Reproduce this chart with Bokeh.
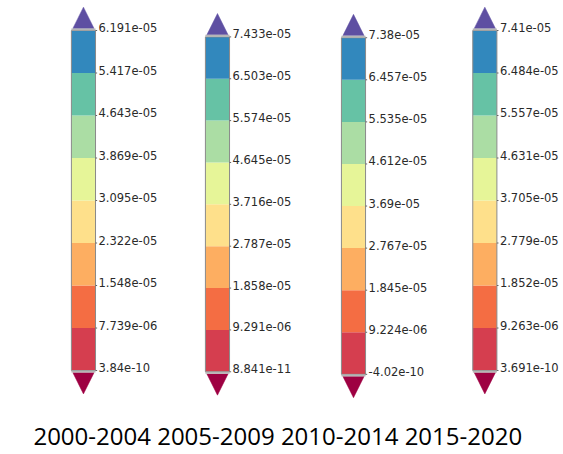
from bokeh.plotting import figure
from bokeh.models import Range1d, ColumnDataSource
from bokeh.embed import file_html
from bokeh.resources import INLINE
from bokeh.core.properties import value

# ---------------- data ----------------
periods = ["2000-2004", "2005-2009", "2010-2014", "2015-2020"]
ticks_2000 = ["3.84e-10", "7.739e-06", "1.548e-05", "2.322e-05", "3.095e-05",
              "3.869e-05", "4.643e-05", "5.417e-05", "6.191e-05"]
ticks_2005 = ["8.841e-11", "9.291e-06", "1.858e-05", "2.787e-05", "3.716e-05",
              "4.645e-05", "5.574e-05", "6.503e-05", "7.433e-05"]
ticks_2010 = ["-4.02e-10", "9.224e-06", "1.845e-05", "2.767e-05", "3.69e-05",
              "4.612e-05", "5.535e-05", "6.457e-05", "7.38e-05"]
ticks_2015 = ["3.691e-10", "9.263e-06", "1.852e-05", "2.779e-05", "3.705e-05",
              "4.631e-05", "5.557e-05", "6.484e-05", "7.41e-05"]
band_colors = ["#d53e4f", "#f46d43", "#fdae61", "#fee08b",
               "#e6f598", "#abdda4", "#66c2a5", "#3288bd"]
over_color = "#5e4fa2"
under_color = "#9e0142"

all_ticks = [ticks_2000, ticks_2005, ticks_2010, ticks_2015]

# ---------------- layout / style ----------------
W, H = 563, 454
bar_base = [0.0, -0.03, -0.09, 0.0]      # vertical shift of each bar (band units)
bar_step = [1.0, 0.985, 0.99, 1.0]       # band height of each bar (band units)
bar_shift_x = [0.0, 0.0, 0.015, -0.005]
half_w = 0.09
tri_half = 0.079
tri_gap = 0.05
tri_h = 0.50

p = figure(width=W, height=H, output_backend="svg", toolbar_location=None,
           x_range=Range1d(-0.619, 3.582), y_range=Range1d(-1.976, 8.706),
           min_border=0, min_border_left=0, min_border_right=0,
           min_border_top=0, min_border_bottom=0)
p.axis.visible = False
p.grid.visible = False
p.outline_line_color = None
p.background_fill_color = "white"
p.border_fill_color = "white"

for i, ticks in enumerate(all_ticks):
    cx = i + bar_shift_x[i]
    n = len(ticks) - 1
    base, step = bar_base[i], bar_step[i]
    bottoms = [base + k * step for k in range(n)]
    tops = [base + (k + 1) * step for k in range(n)]
    src = ColumnDataSource(dict(left=[cx - half_w] * n, right=[cx + half_w] * n,
                                bottom=bottoms, top=tops, color=band_colors[:n]))
    p.quad(left="left", right="right", bottom="bottom", top="top",
           fill_color="color", line_color=None, source=src)
    top_y = base + n * step
    bot_y = base
    # outline
    p.quad(left=[cx - half_w], right=[cx + half_w], bottom=[bot_y], top=[top_y],
           fill_color=None, line_color="#8a8a8a", line_width=1)
    # extension triangles
    p.patch(x=[cx - tri_half, cx + tri_half, cx],
            y=[top_y + tri_gap, top_y + tri_gap, top_y + tri_gap + tri_h],
            fill_color=over_color, line_color=over_color, line_width=0.5)
    p.patch(x=[cx - tri_half, cx + tri_half, cx],
            y=[bot_y - tri_gap, bot_y - tri_gap, bot_y - tri_gap - tri_h],
            fill_color=under_color, line_color=under_color, line_width=0.5)
    # separators
    p.segment(x0=[cx - half_w, cx - half_w], x1=[cx + half_w, cx + half_w],
              y0=[top_y + tri_gap / 2, bot_y - tri_gap / 2],
              y1=[top_y + tri_gap / 2, bot_y - tri_gap / 2],
              line_color="#b5b5b5", line_width=2)
    # tick marks + labels
    ys = [base + k * step for k in range(n + 1)]
    p.segment(x0=[cx + half_w] * (n + 1), x1=[cx + half_w + 0.012] * (n + 1),
              y0=ys, y1=ys, line_color="#666666", line_width=1)
    lsrc = ColumnDataSource(dict(x=[cx + half_w] * (n + 1), y=ys, t=ticks))
    p.text(x="x", y="y", text="t", source=lsrc, x_offset=3, y_offset=-3,
           text_font=value("DejaVu Sans"), text_font_size="11.5px",
           text_color="#2a2a2a", text_baseline="middle", text_align="left")

p.text(x=[1.45], y=[-1.53], text=[" ".join(periods)],
       text_font=value("Open Sans"), text_font_size="24px",
       text_color="#000000", text_baseline="middle", text_align="center")

open("out.html", "w").write(file_html(p, INLINE))
